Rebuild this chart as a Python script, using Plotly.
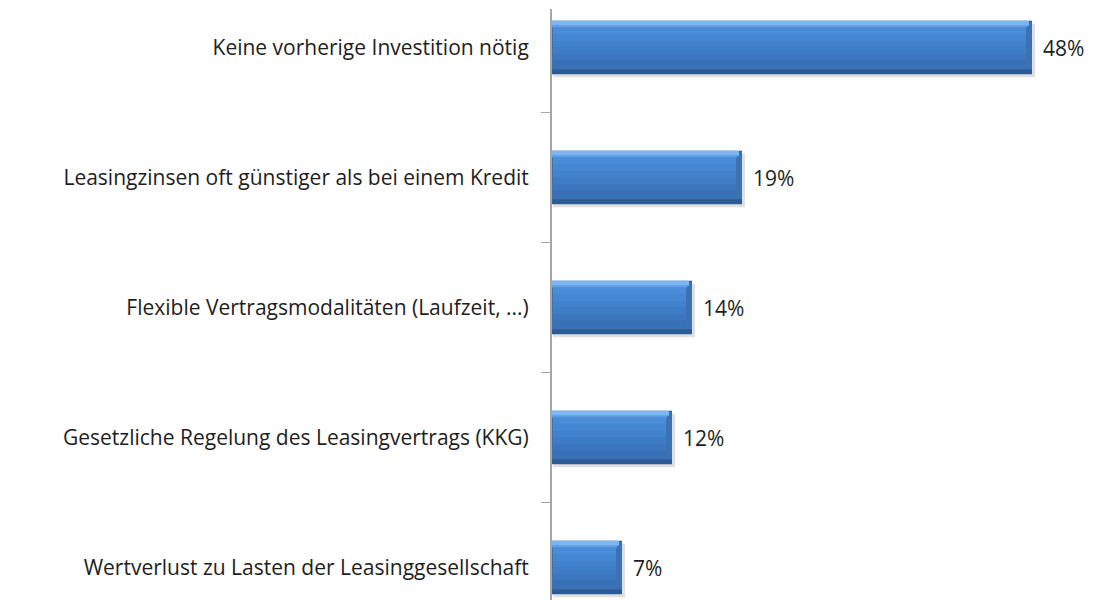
import plotly.graph_objects as go

categories = [
    "Keine vorherige Investition nötig",
    "Leasingzinsen oft günstiger als bei einem Kredit",
    "Flexible Vertragsmodalitäten (Laufzeit, ...)",
    "Gesetzliche Regelung des Leasingvertrags (KKG)",
    "Wertverlust zu Lasten der Leasinggesellschaft",
]
values = [48, 19, 14, 12, 7]
value_labels = ["48%", "19%", "14%", "12%", "7%"]

FONT = "Open Sans"
FSIZE = 21
BW = 0.41          # bar thickness in category units
PX_Y = 130.0       # pixels per category unit
PX_X = 10.0        # pixels per percent
ey = 5 / PX_Y      # bevel thickness (y, category units)

fig = go.Figure()

def layer(off, width, x0_px, x1_px, color):
    fig.add_trace(go.Bar(
        y=categories,
        x=[v + x1_px / PX_X - x0_px / PX_X for v in values],
        base=[x0_px / PX_X] * len(values),
        orientation="h",
        offset=off,
        width=width,
        marker=dict(color=color, line=dict(width=0)),
        hoverinfo="skip",
        showlegend=False,
    ))

# shadow
layer(-BW / 2 + 3 / PX_Y, BW, 1, 3, "rgba(0,0,0,0.12)")
# bottom dark edge (full bar)
layer(-BW / 2, BW, 0, 0, "#2D5C94")
# right bevel
layer(-BW / 2 + 1 / PX_Y, BW - 6 / PX_Y, 0, 0, "#3C71B2")
# top highlight
layer(-BW / 2, ey, 0, -3, "#7BB6F3")
layer(-BW / 2 + ey, 2 / PX_Y, 0, -5, "#5E9CE4")
# face gradient stripes
face_top = -BW / 2 + ey + 2 / PX_Y
face_h = BW - 2 * ey - 2 / PX_Y - 2 / PX_Y
stripe_colors = ["#4A8CD8", "#4687D3", "#4282CD", "#3E7CC6", "#3B76BE", "#3870B6"]
n = len(stripe_colors)
for i, c in enumerate(stripe_colors):
    layer(face_top + i * face_h / n, face_h / n + 0.002, 1, -6, c)

for cat, v, lab in zip(categories, values, value_labels):
    fig.add_annotation(
        x=v, y=cat, text=lab, showarrow=False,
        xanchor="left", yanchor="middle", xshift=9,
        font=dict(family=FONT, size=FSIZE, color="#1e1e1e"),
    )

top = -38.5 / PX_Y
fig.update_layout(
    width=1096, height=600,
    barmode="overlay",
    margin=dict(l=552, r=0, t=9, b=0, pad=0),
    paper_bgcolor="white", plot_bgcolor="white",
    showlegend=False,
    hovermode=False,
    xaxis=dict(range=[0, (1096 - 552) / PX_X], visible=False, fixedrange=True),
    yaxis=dict(
        type="category",
        categoryorder="array", categoryarray=categories,
        range=[top + 591 / PX_Y, top],
        showline=True, linecolor="#A6A6A6", linewidth=2,
        ticks="outside", tickson="boundaries", ticklen=9, tickwidth=1,
        tickcolor="#A6A6A6",
        ticklabelstandoff=17,
        tickfont=dict(family=FONT, size=FSIZE, color="#1e1e1e"),
        showgrid=False, zeroline=False, automargin=False, fixedrange=True,
    ),
)

fig.write_html(
    "out.html",
    config={"displayModeBar": False},
    post_script="document.body.style.margin='0';",
)
